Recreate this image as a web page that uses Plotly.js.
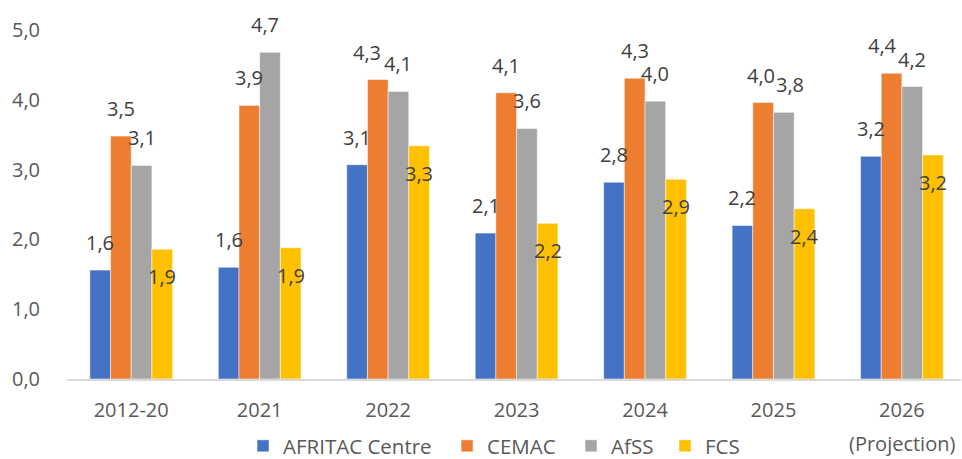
<!DOCTYPE html>
<html>
<head>
<meta charset="utf-8">
<script src="https://cdn.plot.ly/plotly-3.0.1.min.js"></script>
<style>html,body{margin:0;padding:0;background:#fff;}#chart{width:962px;height:459px;}</style>
</head>
<body>
<div id="chart"></div>
<script>
const categories = ['2012-20', '2021', '2022', '2023', '2024', '2025', '2026'];
const tickLabels = ['2012-20', '2021', '2022', '2023', '2024', '2025', '2026'];
const projectionNote = '(Projection)';
const seriesNames = ['AFRITAC Centre', 'CEMAC', 'AfSS', 'FCS'];
const afritacCentre = [1.56, 1.60, 3.07, 2.09, 2.82, 2.20, 3.19];
const cemac = [3.48, 3.92, 4.29, 4.10, 4.31, 3.96, 4.38];
const afss = [3.06, 4.68, 4.12, 3.59, 3.98, 3.82, 4.19];
const fcs = [1.86, 1.88, 3.34, 2.23, 2.86, 2.44, 3.21];
const yTickVals = [0, 1, 2, 3, 4, 5];

const seriesValues = [afritacCentre, cemac, afss, fcs];
const colors = ['#4472C4', '#ED7D31', '#A5A5A5', '#FFC000'];
const labelShift = [27.5, 27.5, 27.5, -27.5];
// small horizontal nudges of a few labels, as placed in the original (series-category: px)
const labelNudge = {'1-2': -11, '1-6': -9, '1-5': -2, '2-5': 6, '2-1': -5};
// one legend per series so each entry sits where the original puts it (paper x)
const legendX = [0.1969, 0.4251, 0.5638, 0.6689];
const legendIds = ['legend', 'legend2', 'legend3', 'legend4'];
const bargap = 0.356;
const FONT = '"Open Sans", "Segoe UI", sans-serif';

const traces = seriesValues.map((vals, s) => ({
  type: 'bar',
  name: seriesNames[s],
  legend: legendIds[s],
  x: categories,
  y: vals,
  marker: {color: colors[s], line: {color: 'rgba(255,255,255,0.5)', width: 1}},
  hoverinfo: 'x+y+name'
}));

const fmt = v => v.toFixed(1).replace('.', ',');
const annotations = [];
const barW = (1 - bargap) / 4;
seriesValues.forEach((vals, s) => {
  vals.forEach((v, i) => {
    annotations.push({
      xref: 'x', yref: 'y',
      x: i + (s - 1.5) * barW,
      y: v,
      text: fmt(v),
      showarrow: false,
      xanchor: 'center', yanchor: 'middle',
      xshift: labelNudge[s + '-' + i] || 0,
      yshift: labelShift[s],
      borderpad: 0,
      font: {family: FONT, size: 20, color: '#404040'}
    });
  });
});
annotations.push({
  xref: 'x', yref: 'paper',
  x: categories.length - 1, y: -0.186,
  text: projectionNote, showarrow: false,
  xanchor: 'center', yanchor: 'middle',
  borderpad: 0,
  font: {family: FONT, size: 20, color: '#595959'}
});

const layout = {
  width: 962, height: 459,
  margin: {l: 67, r: 1, t: 30, b: 80, autoexpand: false},
  paper_bgcolor: '#ffffff', plot_bgcolor: '#ffffff',
  separators: ',.',
  barmode: 'group',
  bargap: bargap,
  bargroupgap: 0,
  font: {family: FONT, size: 20, color: '#595959'},
  showlegend: true,
  xaxis: {
    type: 'category',
    range: [-0.5, 6.46],
    tickmode: 'array',
    tickvals: categories,
    ticktext: tickLabels,
    ticks: '',
    showgrid: false,
    showline: true,
    linecolor: '#D9D9D9',
    linewidth: 1.5,
    zeroline: false,
    ticklabelstandoff: 12,
    tickfont: {family: FONT, size: 20, color: '#595959'}
  },
  yaxis: {
    range: [0, 5],
    tickmode: 'array',
    tickvals: yTickVals,
    tickformat: '.1f',
    ticks: '',
    showgrid: false,
    showline: false,
    zeroline: false,
    ticklabelstandoff: 26,
    tickfont: {family: FONT, size: 20, color: '#595959'}
  },
  annotations: annotations
};
legendIds.forEach((id, s) => {
  layout[id] = {
    orientation: 'h',
    x: legendX[s], xanchor: 'left',
    y: -0.192, yanchor: 'middle',
    itemwidth: 30,
    font: {family: FONT, size: 20.5, color: '#595959'},
    bgcolor: 'rgba(0,0,0,0)'
  };
});

Plotly.newPlot('chart', traces, layout, {displayModeBar: false, staticPlot: true});
</script>
</body>
</html>
